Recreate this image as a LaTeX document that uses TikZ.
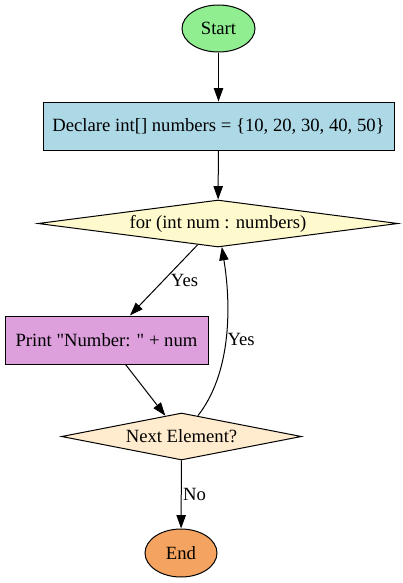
\documentclass[tikz,border=0pt]{standalone}
\usepackage{fontspec}
\setmainfont{Liberation Serif}[Ligatures=TeXOff]
\usetikzlibrary{shapes.geometric,arrows.meta}
\definecolor{cstart}{HTML}{90EE90}
\definecolor{cdecl}{HTML}{ADD8E6}
\definecolor{cfor}{HTML}{FFFACD}
\definecolor{cprint}{HTML}{DDA0DD}
\definecolor{cnext}{HTML}{FFEBCD}
\definecolor{cend}{HTML}{F4A460}
\tikzset{
  base/.style={draw=black, line width=0.75pt, inner sep=0pt, font=\fontsize{14}{16.8}\selectfont},
  term/.style={base, ellipse},
  procbox/.style={base, rectangle},
  decide/.style={base, diamond},
  conn/.style={line width=0.75pt, -{Triangle[length=10pt,width=7pt]}},
  elabel/.style={font=\fontsize{14}{16.8}\selectfont, inner sep=1pt}
}
\begin{document}
\begin{tikzpicture}[x=0.75pt,y=-0.75pt]
\useasboundingbox (0,0) rectangle (403,583);
\node[term, fill=cstart, minimum width=54.75pt, minimum height=35.25pt] (start) at (218.5,28.5) {Start};
\node[procbox, fill=cdecl, minimum width=263.25pt, minimum height=36pt] (decl) at (218.5,126) {Declare int[] numbers = \{10, 20, 30, 40, 50\}};
\node[decide, fill=cfor, aspect=7.66, minimum width=270pt, minimum height=35.25pt] (for) at (218,223.5) {for (int num : numbers)};
\node[procbox, fill=cprint, minimum width=152.25pt, minimum height=36pt] (print) at (106.5,340) {Print "Number: " + num};
\node[decide, fill=cnext, aspect=5.1, minimum width=180pt, minimum height=35.25pt] (next) at (181.5,436.5) {Next Element?};
\node[term, fill=cend, minimum width=54pt, minimum height=36pt] (end) at (181,553) {End};

\draw[conn] (start) -- (decl);
\draw[conn] (decl) -- (for);
\draw[conn] (for) -- node[elabel, right, pos=0.5, xshift=4pt] {Yes} (print);
\draw[conn] (print) -- (next);
\draw[conn] (next) .. controls (230,375) and (232,310) .. node[elabel, right, pos=0.5] {Yes} (for);
\draw[conn] (next) -- node[elabel, right, pos=0.5] {No} (end);
\end{tikzpicture}
\end{document}
